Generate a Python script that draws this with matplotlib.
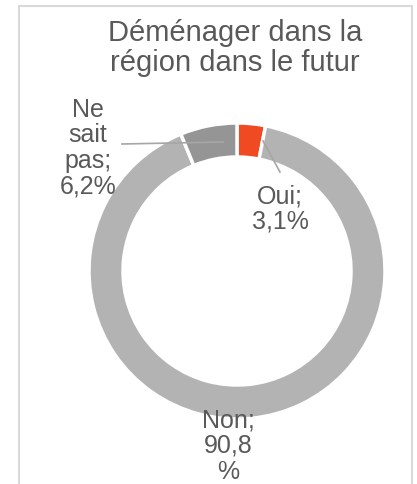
import matplotlib.pyplot as plt
from matplotlib.patches import Rectangle

categories = ["Oui", "Non", "Ne sait pas"]
values = [3.1, 90.8, 6.2]
label_texts = ["Oui;\n3,1%", "Non;\n90,8\n%", "Ne\nsait\npas;\n6,2%"]
colors = ["#F04A23", "#B3B3B3", "#959595"]
title = "Déménager dans la\nrégion dans le futur"

W, H = 417, 485
fig = plt.figure(figsize=(W / 100, H / 100), dpi=100)
ax = fig.add_axes([0, 0, 1, 1])
ax.set_xlim(0, W)
ax.set_ylim(0, H)
ax.set_aspect("equal")
ax.axis("off")

def Y(py):
    return H - py

# frame
ax.add_patch(Rectangle((19, Y(492)), 393, 485, fill=False, edgecolor="#D9D9D9", linewidth=1.5))

cx, cy, r = 237, Y(272), 148
ax.pie(values, colors=colors, startangle=90, counterclock=False,
       center=(cx, cy), radius=r,
       wedgeprops=dict(width=34, edgecolor="white", linewidth=2.5))
ax.set_xlim(0, W)
ax.set_ylim(0, H)

font = "Liberation Sans"
tc = "#595959"
ax.text(235, Y(48), title, ha="center", va="center", fontsize=21, color=tc,
        family=font, linespacing=1.12)

# leader lines
ax.plot([122, 223], [Y(145), Y(143)], color="#A6A6A6", lw=1.2)
ax.plot([263, 280], [Y(142), Y(173)], color="#A6A6A6", lw=1.2)

pos = [(280, 209), (228, 446), (88, 148)]
for (x, y), t in zip(pos, label_texts):
    ax.text(x, Y(y), t, ha="center", va="center", fontsize=18, color=tc,
            family=font, linespacing=1.08)

fig.savefig("out.png", dpi=100, facecolor="white")
